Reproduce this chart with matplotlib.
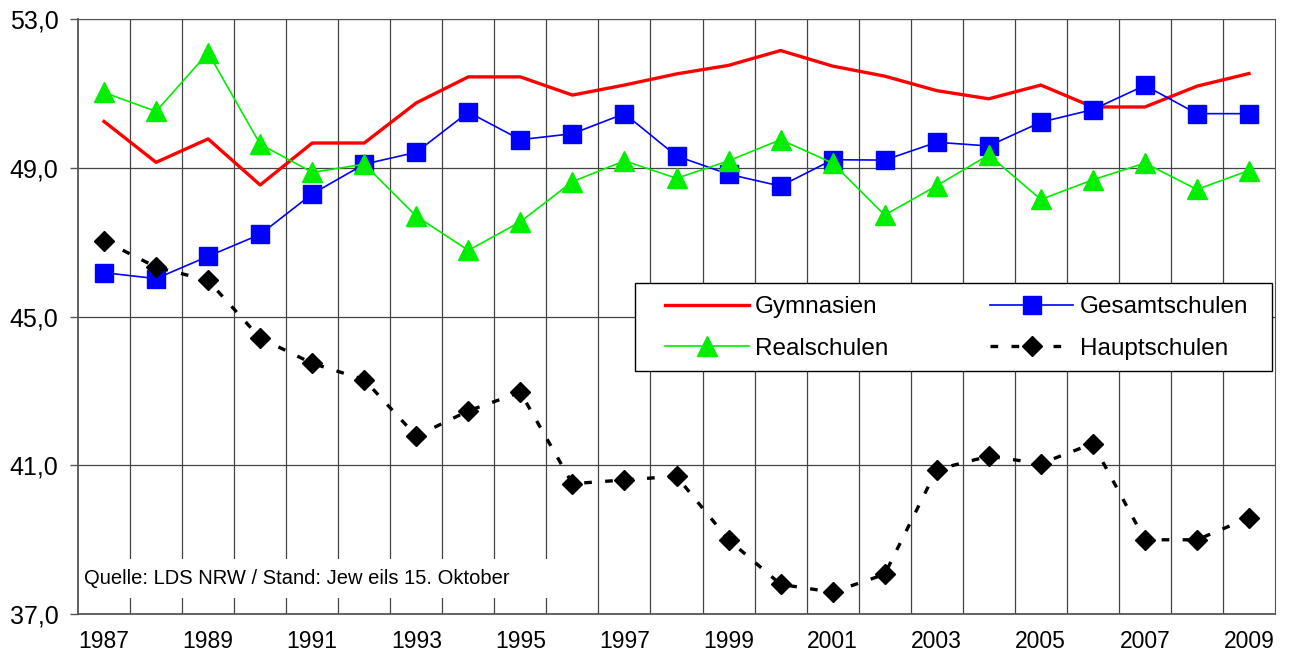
import numpy as np
import matplotlib.pyplot as plt
from matplotlib.patches import Rectangle

years = list(range(1987, 2010))

gymnasien = [50.25, 49.15, 49.78, 48.54, 49.67, 49.67, 50.75, 51.45, 51.45, 50.96, 51.23, 51.53,
             51.76, 52.16, 51.74, 51.47, 51.08, 50.86, 51.23, 50.64, 50.64, 51.2, 51.54]
gesamtschulen = [46.18, 46.02, 46.62, 47.21, 48.3, 49.1, 49.42, 50.5, 49.76, 49.92, 50.46, 49.32,
                 48.83, 48.51, 49.22, 49.21, 49.69, 49.59, 50.23, 50.57, 51.22, 50.46, 50.46]
realschulen = [51.03, 50.52, 52.1, 49.64, 48.88, 49.1, 47.7, 46.78, 47.55, 48.63, 49.19, 48.72,
               49.19, 49.76, 49.13, 47.73, 48.52, 49.35, 48.15, 48.68, 49.13, 48.42, 48.93]
hauptschulen = [47.04, 46.33, 45.97, 44.42, 43.74, 43.3, 41.78, 42.46, 42.96, 40.5, 40.6, 40.7,
                38.99, 37.79, 37.58, 38.06, 40.88, 41.24, 41.04, 41.58, 38.99, 38.99, 39.58]

y_ticks = [37, 41, 45, 49, 53]
source = "Quelle: LDS NRW / Stand: Jew eils 15. Oktober"

plt.rcParams['font.family'] = ['Liberation Sans', 'DejaVu Sans']

fig = plt.figure(figsize=(12.9, 6.66), dpi=100)
ax = fig.add_axes([78 / 1290, 1 - 613.7 / 666, 1197 / 1290, 594.4 / 666])

x = np.arange(len(years))

l_gym, = ax.plot(x, gymnasien, color='#ff0000', lw=2.4, label='Gymnasien', zorder=3)
l_ges, = ax.plot(x, gesamtschulen, color='#0000ff', lw=1.2, marker='s', markersize=12.5,
                 label='Gesamtschulen', zorder=4)
l_real, = ax.plot(x, realschulen, color='#00ee00', lw=1.2, marker='^', markersize=14,
                  label='Realschulen', zorder=4)
l_haupt, = ax.plot(x, hauptschulen, color='black', lw=2.4, linestyle=(0, (2.3, 4)), marker='D',
                   markersize=10, label='Hauptschulen', zorder=4)

ax.set_xlim(-0.5, len(years) - 0.5)
ax.set_ylim(37, 53)

ax.set_xticks(x[::2])
ax.set_xticklabels([str(y) for y in years[::2]], fontsize=16.5)
ax.set_xticks(np.arange(0.5, len(years) - 1, 1), minor=True)
ax.tick_params(axis='x', which='both', length=0, pad=12)

ax.set_yticks(y_ticks)
ax.set_yticklabels([f"{v},0" for v in y_ticks], fontsize=18)
ax.tick_params(axis='y', length=6, width=1, color='#555555', pad=8)

ax.set_axisbelow(True)
ax.grid(axis='x', which='minor', color='#444444', lw=0.9)
ax.grid(axis='y', which='major', color='#444444', lw=0.9)

for side in ['top', 'right', 'left', 'bottom']:
    ax.spines[side].set_color('#555555')
for side in ['left', 'bottom']:
    ax.spines[side].set_linewidth(1.3)

# white box behind the source note
ax.add_patch(Rectangle((0, 0.026), 0.394, 0.066, transform=ax.transAxes,
                       facecolor='white', edgecolor='none', zorder=1))
ax.text(0.005, 0.06, source, transform=ax.transAxes, fontsize=14.5,
        va='center', ha='left', zorder=2)

# legend frame drawn separately so the padding can be wider than tall
ax.add_patch(Rectangle((0.465, 0.408), 0.5325, 0.148, transform=ax.transAxes,
                       facecolor='white', edgecolor='black', lw=1.0, zorder=5))

# column-wise fill -> row 1: Gymnasien, Gesamtschulen / row 2: Realschulen, Hauptschulen
leg = ax.legend([l_gym, l_real, l_ges, l_haupt],
                ['Gymnasien', 'Realschulen', 'Gesamtschulen', 'Hauptschulen'],
                ncol=2, loc='center', bbox_to_anchor=(0.4904, 0.4807, 0.4871, 0),
                mode='expand', fontsize=17.5, handlelength=3.45, labelspacing=0.8,
                borderaxespad=0, borderpad=0, frameon=False, handletextpad=0.25)
leg.set_zorder(6)

plt.savefig('out.png', dpi=100)
